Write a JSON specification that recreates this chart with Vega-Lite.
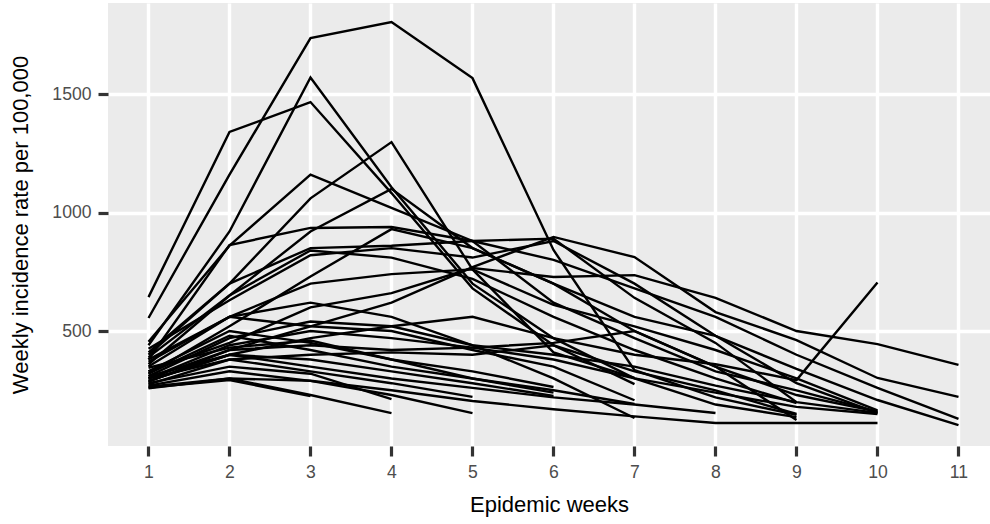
{
  "$schema": "https://vega.github.io/schema/vega-lite/v6.json",
  "width": 882,
  "height": 443,
  "autosize": {"type": "none"},
  "padding": {"left": 108, "top": 3, "right": 0, "bottom": 78},
  "background": "white",
  "view": {"fill": "#EBEBEB", "stroke": null},
  "data": {"values": [
    {"id":1,"week":1,"rate":555},{"id":1,"week":2,"rate":1160},{"id":1,"week":3,"rate":1736},{"id":1,"week":4,"rate":1804},{"id":1,"week":5,"rate":1567},{"id":1,"week":6,"rate":842},{"id":1,"week":7,"rate":335},{"id":1,"week":8,"rate":220},{"id":1,"week":9,"rate":146},
    {"id":2,"week":1,"rate":440},{"id":2,"week":2,"rate":920},{"id":2,"week":3,"rate":1570},{"id":2,"week":4,"rate":1107},{"id":2,"week":5,"rate":700},{"id":2,"week":6,"rate":470},{"id":2,"week":7,"rate":300},{"id":2,"week":8,"rate":190},{"id":2,"week":9,"rate":137},
    {"id":3,"week":1,"rate":643},{"id":3,"week":2,"rate":1340},{"id":3,"week":3,"rate":1466},{"id":3,"week":4,"rate":1082},{"id":3,"week":5,"rate":680},{"id":3,"week":6,"rate":440},{"id":3,"week":7,"rate":276},
    {"id":4,"week":1,"rate":400},{"id":4,"week":2,"rate":700},{"id":4,"week":3,"rate":1060},{"id":4,"week":4,"rate":1297},{"id":4,"week":5,"rate":760},{"id":4,"week":6,"rate":410},{"id":4,"week":7,"rate":302},
    {"id":5,"week":1,"rate":455},{"id":5,"week":2,"rate":860},{"id":5,"week":3,"rate":1160},{"id":5,"week":4,"rate":1020},{"id":5,"week":5,"rate":880},{"id":5,"week":6,"rate":620},{"id":5,"week":7,"rate":470},{"id":5,"week":8,"rate":330},{"id":5,"week":9,"rate":250},{"id":5,"week":10,"rate":160},
    {"id":6,"week":1,"rate":380},{"id":6,"week":2,"rate":863},{"id":6,"week":3,"rate":935},{"id":6,"week":4,"rate":939},{"id":6,"week":5,"rate":880},{"id":6,"week":6,"rate":800},{"id":6,"week":7,"rate":680},{"id":6,"week":8,"rate":560},{"id":6,"week":9,"rate":400},{"id":6,"week":10,"rate":260},{"id":6,"week":11,"rate":129},
    {"id":7,"week":1,"rate":300},{"id":7,"week":2,"rate":420},{"id":7,"week":3,"rate":520},{"id":7,"week":4,"rate":620},{"id":7,"week":5,"rate":770},{"id":7,"week":6,"rate":897},{"id":7,"week":7,"rate":812},{"id":7,"week":8,"rate":580},{"id":7,"week":9,"rate":462},{"id":7,"week":10,"rate":302},{"id":7,"week":11,"rate":222},
    {"id":8,"week":1,"rate":330},{"id":8,"week":2,"rate":450},{"id":8,"week":3,"rate":600},{"id":8,"week":4,"rate":660},{"id":8,"week":5,"rate":766},{"id":8,"week":6,"rate":728},{"id":8,"week":7,"rate":736},{"id":8,"week":8,"rate":640},{"id":8,"week":9,"rate":500},{"id":8,"week":10,"rate":445},{"id":8,"week":11,"rate":357},
    {"id":9,"week":1,"rate":290},{"id":9,"week":2,"rate":400},{"id":9,"week":3,"rate":470},{"id":9,"week":4,"rate":520},{"id":9,"week":5,"rate":560},{"id":9,"week":6,"rate":470},{"id":9,"week":7,"rate":400},{"id":9,"week":8,"rate":360},{"id":9,"week":9,"rate":293},{"id":9,"week":10,"rate":705},
    {"id":10,"week":1,"rate":360},{"id":10,"week":2,"rate":650},{"id":10,"week":3,"rate":840},{"id":10,"week":4,"rate":810},{"id":10,"week":5,"rate":720},{"id":10,"week":6,"rate":560},{"id":10,"week":7,"rate":420},{"id":10,"week":8,"rate":300},{"id":10,"week":9,"rate":196},
    {"id":11,"week":1,"rate":265},{"id":11,"week":2,"rate":300},{"id":11,"week":3,"rate":290},{"id":11,"week":4,"rate":250},{"id":11,"week":5,"rate":205},{"id":11,"week":6,"rate":170},{"id":11,"week":7,"rate":140},{"id":11,"week":8,"rate":112},{"id":11,"week":9,"rate":112},{"id":11,"week":10,"rate":112},
    {"id":12,"week":1,"rate":350},{"id":12,"week":2,"rate":560},{"id":12,"week":3,"rate":700},{"id":12,"week":4,"rate":740},{"id":12,"week":5,"rate":760},{"id":12,"week":6,"rate":610},{"id":12,"week":7,"rate":520},{"id":12,"week":8,"rate":420},{"id":12,"week":9,"rate":300},{"id":12,"week":10,"rate":165},
    {"id":13,"week":1,"rate":320},{"id":13,"week":2,"rate":520},{"id":13,"week":3,"rate":730},{"id":13,"week":4,"rate":930},{"id":13,"week":5,"rate":850},{"id":13,"week":6,"rate":700},{"id":13,"week":7,"rate":560},{"id":13,"week":8,"rate":480},{"id":13,"week":9,"rate":340},{"id":13,"week":10,"rate":209},{"id":13,"week":11,"rate":103},
    {"id":14,"week":1,"rate":310},{"id":14,"week":2,"rate":470},{"id":14,"week":3,"rate":540},{"id":14,"week":4,"rate":520},{"id":14,"week":5,"rate":440},{"id":14,"week":6,"rate":400},{"id":14,"week":7,"rate":350},{"id":14,"week":8,"rate":270},{"id":14,"week":9,"rate":200},{"id":14,"week":10,"rate":155},
    {"id":15,"week":1,"rate":300},{"id":15,"week":2,"rate":440},{"id":15,"week":3,"rate":500},{"id":15,"week":4,"rate":470},{"id":15,"week":5,"rate":430},{"id":15,"week":6,"rate":380},{"id":15,"week":7,"rate":300},{"id":15,"week":8,"rate":240},{"id":15,"week":9,"rate":180},{"id":15,"week":10,"rate":150},
    {"id":16,"week":1,"rate":285},{"id":16,"week":2,"rate":420},{"id":16,"week":3,"rate":440},{"id":16,"week":4,"rate":420},{"id":16,"week":5,"rate":430},{"id":16,"week":6,"rate":450},{"id":16,"week":7,"rate":500},{"id":16,"week":8,"rate":350},{"id":16,"week":9,"rate":125},
    {"id":17,"week":1,"rate":275},{"id":17,"week":2,"rate":380},{"id":17,"week":3,"rate":400},{"id":17,"week":4,"rate":410},{"id":17,"week":5,"rate":400},{"id":17,"week":6,"rate":440},{"id":17,"week":7,"rate":330},{"id":17,"week":8,"rate":250},{"id":17,"week":9,"rate":150},
    {"id":18,"week":1,"rate":262},{"id":18,"week":2,"rate":293},{"id":18,"week":3,"rate":226},
    {"id":19,"week":1,"rate":280},{"id":19,"week":2,"rate":350},{"id":19,"week":3,"rate":320},{"id":19,"week":4,"rate":213},
    {"id":20,"week":1,"rate":258},{"id":20,"week":2,"rate":300},{"id":20,"week":3,"rate":230},{"id":20,"week":4,"rate":154},
    {"id":21,"week":1,"rate":300},{"id":21,"week":2,"rate":380},{"id":21,"week":3,"rate":330},{"id":21,"week":4,"rate":280},{"id":21,"week":5,"rate":222},
    {"id":22,"week":1,"rate":270},{"id":22,"week":2,"rate":330},{"id":22,"week":3,"rate":290},{"id":22,"week":4,"rate":230},{"id":22,"week":5,"rate":154},
    {"id":23,"week":1,"rate":330},{"id":23,"week":2,"rate":500},{"id":23,"week":3,"rate":450},{"id":23,"week":4,"rate":380},{"id":23,"week":5,"rate":330},{"id":23,"week":6,"rate":264},
    {"id":24,"week":1,"rate":320},{"id":24,"week":2,"rate":480},{"id":24,"week":3,"rate":420},{"id":24,"week":4,"rate":350},{"id":24,"week":5,"rate":300},{"id":24,"week":6,"rate":240},
    {"id":25,"week":1,"rate":290},{"id":25,"week":2,"rate":400},{"id":25,"week":3,"rate":380},{"id":25,"week":4,"rate":330},{"id":25,"week":5,"rate":280},{"id":25,"week":6,"rate":226},
    {"id":26,"week":1,"rate":370},{"id":26,"week":2,"rate":560},{"id":26,"week":3,"rate":520},{"id":26,"week":4,"rate":500},{"id":26,"week":5,"rate":420},{"id":26,"week":6,"rate":350},{"id":26,"week":7,"rate":208},
    {"id":27,"week":1,"rate":345},{"id":27,"week":2,"rate":430},{"id":27,"week":3,"rate":460},{"id":27,"week":4,"rate":380},{"id":27,"week":5,"rate":300},{"id":27,"week":6,"rate":250},{"id":27,"week":7,"rate":192},
    {"id":28,"week":1,"rate":310},{"id":28,"week":2,"rate":400},{"id":28,"week":3,"rate":350},{"id":28,"week":4,"rate":300},{"id":28,"week":5,"rate":260},{"id":28,"week":6,"rate":220},{"id":28,"week":7,"rate":190},{"id":28,"week":8,"rate":154},
    {"id":29,"week":1,"rate":390},{"id":29,"week":2,"rate":650},{"id":29,"week":3,"rate":920},{"id":29,"week":4,"rate":1100},{"id":29,"week":5,"rate":850},{"id":29,"week":6,"rate":700},{"id":29,"week":7,"rate":500},{"id":29,"week":8,"rate":350},{"id":29,"week":9,"rate":230},{"id":29,"week":10,"rate":160},
    {"id":30,"week":1,"rate":380},{"id":30,"week":2,"rate":560},{"id":30,"week":3,"rate":620},{"id":30,"week":4,"rate":560},{"id":30,"week":5,"rate":440},{"id":30,"week":6,"rate":300},{"id":30,"week":7,"rate":133},
    {"id":31,"week":1,"rate":425},{"id":31,"week":2,"rate":630},{"id":31,"week":3,"rate":820},{"id":31,"week":4,"rate":850},{"id":31,"week":5,"rate":810},{"id":31,"week":6,"rate":880},{"id":31,"week":7,"rate":700},{"id":31,"week":8,"rate":480},{"id":31,"week":9,"rate":280},{"id":31,"week":10,"rate":155},
    {"id":32,"week":1,"rate":410},{"id":32,"week":2,"rate":700},{"id":32,"week":3,"rate":850},{"id":32,"week":4,"rate":860},{"id":32,"week":5,"rate":880},{"id":32,"week":6,"rate":890},{"id":32,"week":7,"rate":640},{"id":32,"week":8,"rate":450},{"id":32,"week":9,"rate":200}
  ]},
  "mark": {"type": "line", "color": "black", "strokeWidth": 2.4, "clip": true},
  "encoding": {
    "x": {
      "field": "week", "type": "quantitative",
      "scale": {"domain": [0.5, 11.389], "nice": false, "zero": false},
      "axis": {"values": [1,2,3,4,5,6,7,8,9,10,11], "format": "d", "title": "Epidemic weeks", "titlePadding": 14}
    },
    "y": {
      "field": "rate", "type": "quantitative",
      "scale": {"domain": [15, 1884], "nice": false, "zero": false},
      "axis": {"values": [500, 1000, 1500], "format": "d", "title": "Weekly incidence rate per 100,000", "titlePadding": 19}
    },
    "detail": {"field": "id", "type": "nominal"}
  },
  "config": {
    "axis": {
      "domain": false,
      "grid": true,
      "gridColor": "white",
      "gridWidth": 3.4,
      "tickColor": "#333333",
      "tickWidth": 3.2,
      "tickSize": 10,
      "labelFont": "Liberation Sans",
      "labelFontSize": 17.6,
      "labelColor": "#4D4D4D",
      "labelPadding": 7,
      "labelFlush": false,
      "labelOverlap": false,
      "titleFont": "Liberation Sans",
      "titleFontSize": 22,
      "titleFontWeight": "normal",
      "titleColor": "black"
    }
  }
}
